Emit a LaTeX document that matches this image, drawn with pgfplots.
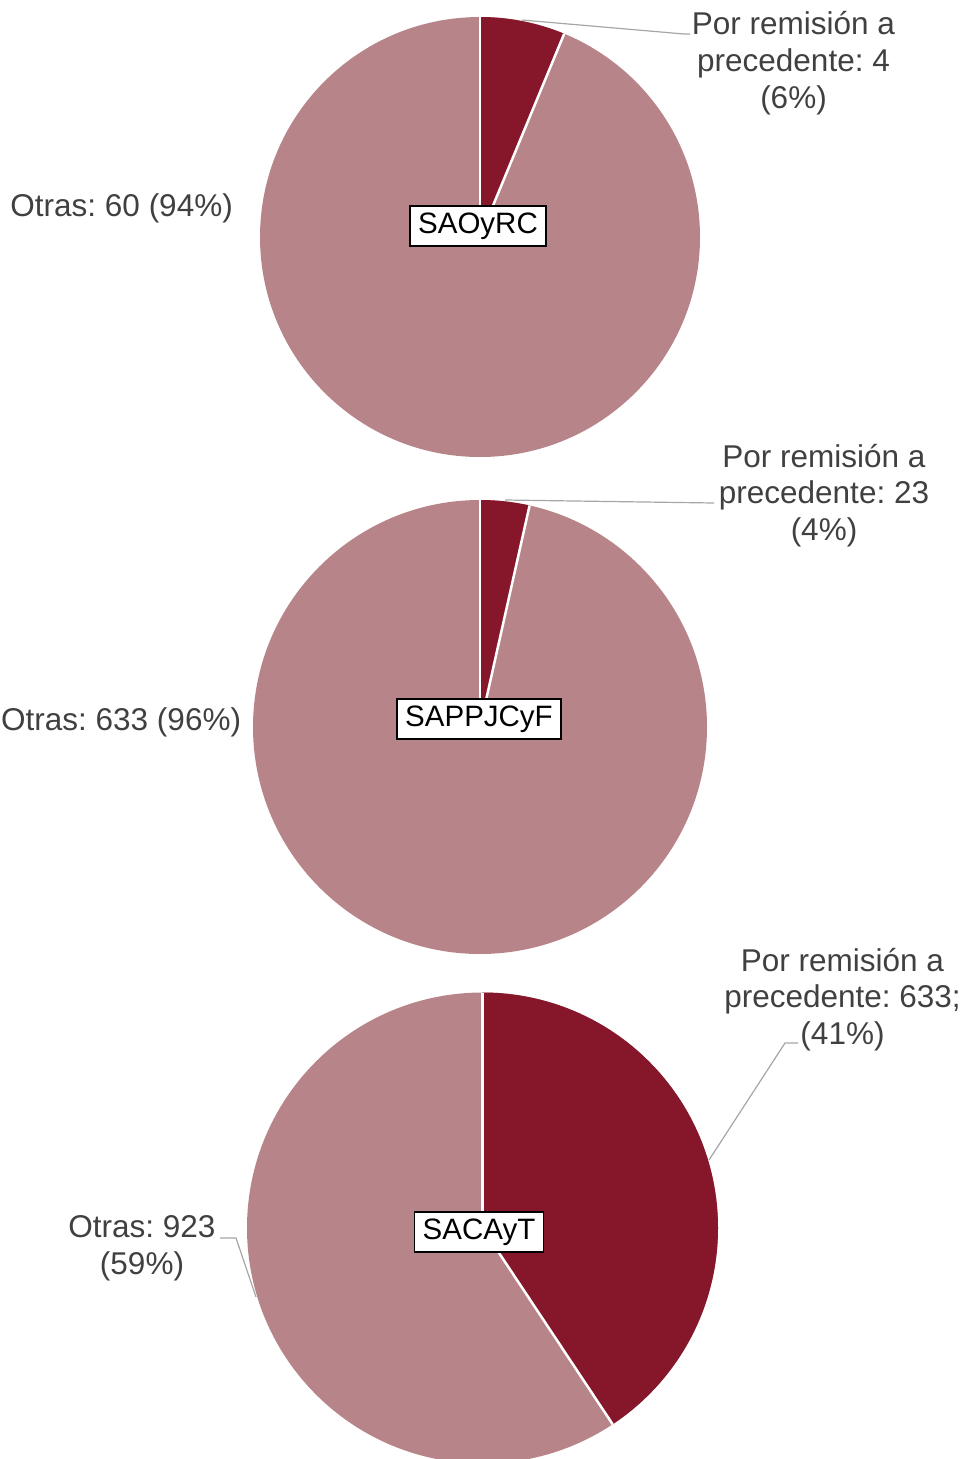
\documentclass[border=0pt]{standalone}
\usepackage{pgfplots}
\pgfplotsset{compat=1.18}
\usepackage{fontspec}
\setmainfont{Liberation Sans}
\definecolor{remcol}{HTML}{86172B}
\definecolor{otrascol}{HTML}{B78589}
\definecolor{txtgray}{HTML}{404040}
\definecolor{leader}{HTML}{A6A6A6}
\frenchspacing

\tikzset{
  lbl/.style={font=\fontsize{31.5}{37}\selectfont, text=txtgray, inner sep=0pt},
  box/.style={font=\fontsize{29.5}{35}\selectfont, fill=white, draw=black,
    line width=1.5pt, inner xsep=8pt, minimum height=40pt},
  ldr/.style={leader, line width=1.2pt},
}

% \pie{cx}{cy}{r}{por remision}{otras}  -- slices start at 12 o'clock, clockwise
\newcommand{\pie}[5]{%
  \fill[otrascol] (axis cs:#1,#2) circle[radius=#3pt];
  \fill[remcol] (axis cs:#1,#2) -- ++(0,#3pt)
    arc[start angle=90, end angle={90-360*(#4/(#4+#5))}, radius=#3pt] -- cycle;
  \draw[white, line width=2.5pt] (axis cs:#1,#2) -- ++(0,#3pt);
  \draw[white, line width=2.5pt] (axis cs:#1,#2) -- ++({90-360*(#4/(#4+#5))}:#3pt);
}

\begin{document}
\begin{tikzpicture}
\begin{axis}[
  width=968pt, height=1459pt, scale only axis,
  xmin=0, xmax=968, ymin=0, ymax=1459, y dir=reverse,
  enlargelimits=false, hide axis,
]
% SAOyRC: 4 / 60
\pie{480}{237}{220}{4}{60}
% SAPPJCyF: 23 / 633
\pie{480}{727}{227}{23}{633}
% SACAyT: 633 / 923
\pie{482.5}{1228}{235.5}{633}{923}

\draw[ldr] (axis cs:522,20) -- (axis cs:684,34) -- (axis cs:690,34);
\draw[ldr] (axis cs:505,500) -- (axis cs:714,503);
\draw[ldr] (axis cs:709,1160) -- (axis cs:785,1043) -- (axis cs:798,1043);
\draw[ldr] (axis cs:256,1297) -- (axis cs:236,1238) -- (axis cs:220,1238);

\node[lbl, anchor=base] at (axis cs:793.5,34) {Por remisión a};
\node[lbl, anchor=base] at (axis cs:793.5,71) {precedente: 4};
\node[lbl, anchor=base] at (axis cs:793.5,108) {(6\%)};
\node[lbl, anchor=base east] at (axis cs:233,216) {Otras: 60 (94\%)};

\node[lbl, anchor=base] at (axis cs:824,467) {Por remisión a};
\node[lbl, anchor=base] at (axis cs:824,503) {precedente: 23};
\node[lbl, anchor=base] at (axis cs:824,540) {(4\%)};
\node[lbl, anchor=base west] at (axis cs:1,730) {Otras: 633 (96\%)};

\node[lbl, anchor=base] at (axis cs:842.5,971) {Por remisión a};
\node[lbl, anchor=base] at (axis cs:842.5,1007) {precedente: 633;};
\node[lbl, anchor=base] at (axis cs:842.5,1044) {(41\%)};
\node[lbl, anchor=base] at (axis cs:142,1237) {Otras: 923};
\node[lbl, anchor=base] at (axis cs:142,1274) {(59\%)};

\node[box] at (axis cs:478,226) {SAOyRC};
\node[box] at (axis cs:479,719) {SAPPJCyF};
\node[box] at (axis cs:479,1232) {SACAyT};
\end{axis}
\pgfresetboundingbox
\useasboundingbox (current axis.south west) rectangle (current axis.north east);
\end{tikzpicture}
\end{document}
